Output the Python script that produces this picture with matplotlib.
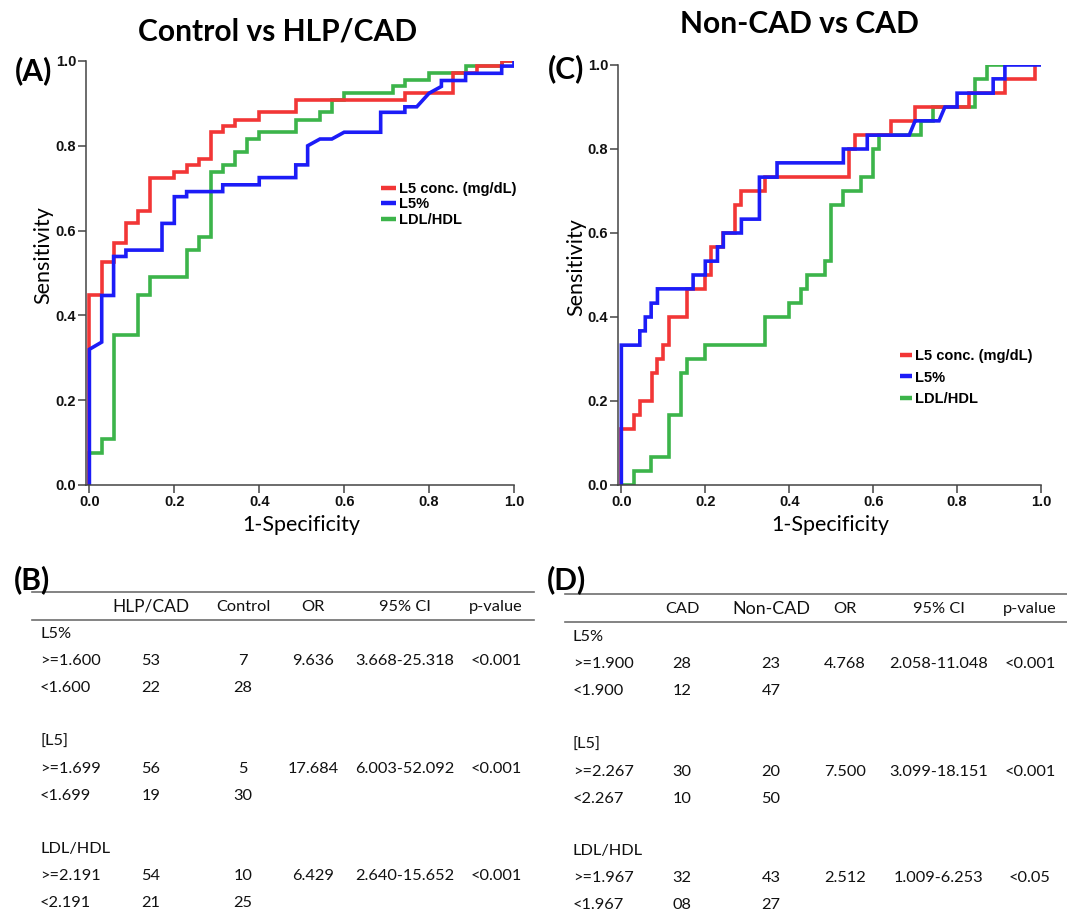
import numpy as np
import matplotlib
matplotlib.use('Agg')
import matplotlib.pyplot as plt

# ---- ROC curve coordinates (1-specificity, sensitivity) ----
# (A) Control vs HLP/CAD
a_conc_x = [0, 0, 0.029, 0.029, 0.057, 0.057, 0.086, 0.086, 0.114, 0.114, 0.143, 0.143, 0.2, 0.2,
            0.229, 0.229, 0.257, 0.257, 0.286, 0.286, 0.314, 0.314, 0.343, 0.343, 0.4, 0.4, 0.486, 0.486,
            0.743, 0.743, 0.857, 0.857, 0.914, 0.914, 0.971, 0.971, 1.0]
a_conc_y = [0, 0.447, 0.447, 0.525, 0.525, 0.570, 0.570, 0.617, 0.617, 0.647, 0.647, 0.725, 0.725, 0.739,
            0.739, 0.755, 0.755, 0.770, 0.770, 0.833, 0.833, 0.847, 0.847, 0.861, 0.861, 0.879, 0.879, 0.908,
            0.908, 0.924, 0.924, 0.971, 0.971, 0.988, 0.988, 1.0, 1.0]
a_pct_x = [0, 0, 0.029, 0.029, 0.057, 0.057, 0.086, 0.086, 0.171, 0.171, 0.2, 0.2, 0.229, 0.229, 0.314,
           0.314, 0.4, 0.4, 0.486, 0.486, 0.514, 0.514, 0.543, 0.571, 0.6, 0.686, 0.686, 0.743, 0.743,
           0.771, 0.8, 0.829, 0.829, 0.886, 0.886, 0.971, 0.971, 1.0, 1.0]
a_pct_y = [0, 0.32, 0.337, 0.447, 0.447, 0.539, 0.539, 0.554, 0.554, 0.617, 0.617, 0.68, 0.68, 0.692, 0.692,
           0.708, 0.708, 0.725, 0.725, 0.755, 0.755, 0.8, 0.816, 0.816, 0.832, 0.832, 0.879, 0.879, 0.892,
           0.892, 0.924, 0.94, 0.954, 0.954, 0.971, 0.971, 0.988, 0.988, 1.0]
a_ldl_x = [0, 0, 0.029, 0.029, 0.057, 0.057, 0.114, 0.114, 0.143, 0.143, 0.229, 0.229, 0.257, 0.257, 0.286,
           0.286, 0.314, 0.314, 0.343, 0.343, 0.371, 0.371, 0.4, 0.4, 0.486, 0.486, 0.543, 0.543, 0.571,
           0.571, 0.6, 0.6, 0.714, 0.714, 0.743, 0.743, 0.8, 0.8, 0.886, 0.886, 0.971, 0.971, 1.0]
a_ldl_y = [0, 0.076, 0.076, 0.108, 0.108, 0.354, 0.354, 0.447, 0.447, 0.491, 0.491, 0.554, 0.554, 0.584,
           0.584, 0.739, 0.739, 0.755, 0.755, 0.786, 0.786, 0.816, 0.816, 0.832, 0.832, 0.862, 0.862, 0.879,
           0.879, 0.908, 0.908, 0.924, 0.924, 0.94, 0.94, 0.955, 0.955, 0.971, 0.971, 0.988, 0.988, 1.0, 1.0]

# (C) Non-CAD vs CAD
c_conc_x = [0, 0, 0.03, 0.03, 0.044, 0.044, 0.073, 0.073, 0.086, 0.086, 0.1, 0.1, 0.114, 0.114, 0.157,
            0.157, 0.2, 0.2, 0.214, 0.214, 0.243, 0.243, 0.271, 0.271, 0.286, 0.286, 0.343, 0.343, 0.543,
            0.543, 0.557, 0.557, 0.643, 0.643, 0.7, 0.7, 0.829, 0.829, 0.914, 0.914, 0.986, 0.986]
c_conc_y = [0, 0.133, 0.133, 0.167, 0.167, 0.2, 0.2, 0.267, 0.267, 0.3, 0.3, 0.333, 0.333, 0.4, 0.4,
            0.467, 0.467, 0.5, 0.5, 0.567, 0.567, 0.6, 0.6, 0.667, 0.667, 0.7, 0.7, 0.733, 0.733,
            0.8, 0.8, 0.833, 0.833, 0.867, 0.867, 0.9, 0.9, 0.933, 0.933, 0.967, 0.967, 1.0]
c_pct_x = [0, 0, 0.044, 0.044, 0.057, 0.057, 0.071, 0.071, 0.086, 0.086, 0.171, 0.171, 0.2, 0.2, 0.229,
           0.229, 0.243, 0.243, 0.286, 0.286, 0.329, 0.329, 0.371, 0.371, 0.529, 0.529, 0.586, 0.586,
           0.686, 0.7, 0.757, 0.771, 0.8, 0.8, 0.886, 0.886, 0.914, 0.914, 1.0]
c_pct_y = [0, 0.333, 0.333, 0.367, 0.367, 0.4, 0.4, 0.433, 0.433, 0.467, 0.467, 0.5, 0.5, 0.533, 0.533,
           0.567, 0.567, 0.6, 0.6, 0.633, 0.633, 0.733, 0.733, 0.767, 0.767, 0.8, 0.8, 0.833,
           0.833, 0.867, 0.867, 0.9, 0.9, 0.933, 0.933, 0.967, 0.967, 1.0, 1.0]
c_ldl_x = [0, 0.029, 0.029, 0.071, 0.071, 0.114, 0.114, 0.143, 0.143, 0.157, 0.157, 0.2, 0.2, 0.343, 0.343,
           0.4, 0.4, 0.429, 0.429, 0.443, 0.443, 0.486, 0.486, 0.5, 0.5, 0.529, 0.529, 0.571, 0.571, 0.6,
           0.6, 0.614, 0.614, 0.714, 0.714, 0.743, 0.743, 0.843, 0.843, 0.871, 0.871, 0.914]
c_ldl_y = [0, 0, 0.033, 0.033, 0.067, 0.067, 0.167, 0.167, 0.267, 0.267, 0.3, 0.3, 0.333, 0.333, 0.4,
           0.4, 0.433, 0.433, 0.467, 0.467, 0.5, 0.5, 0.533, 0.533, 0.667, 0.667, 0.7, 0.7, 0.733, 0.733,
           0.8, 0.8, 0.833, 0.833, 0.867, 0.867, 0.9, 0.9, 0.967, 0.967, 1.0, 1.0]

series_names = ['L5 conc. (mg/dL)', 'L5%', 'LDL/HDL']
series_colors = ['#f23636', '#1c1cf7', '#3cb44a']

# ---- tables ----
b_header = ['HLP/CAD', 'Control', 'OR', '95% CI', 'p-value']
b_groups = ['L5%', '[L5]', 'LDL/HDL']
b_rows = [
    [['>=1.600', '53', '7', '9.636', '3.668-25.318', '<0.001'], ['<1.600', '22', '28', '', '', '']],
    [['>=1.699', '56', '5', '17.684', '6.003-52.092', '<0.001'], ['<1.699', '19', '30', '', '', '']],
    [['>=2.191', '54', '10', '6.429', '2.640-15.652', '<0.001'], ['<2.191', '21', '25', '', '', '']],
]
d_header = ['CAD', 'Non-CAD', 'OR', '95% CI', 'p-value']
d_groups = ['L5%', '[L5]', 'LDL/HDL']
d_rows = [
    [['>=1.900', '28', '23', '4.768', '2.058-11.048', '<0.001'], ['<1.900', '12', '47', '', '', '']],
    [['>=2.267', '30', '20', '7.500', '3.099-18.151', '<0.001'], ['<2.267', '10', '50', '', '', '']],
    [['>=1.967', '32', '43', '2.512', '1.009-6.253', '<0.05'], ['<1.967', '08', '27', '', '', '']],
]

W, H = 1067, 913
fig = plt.figure(figsize=(W / 100, H / 100), dpi=100)
fig.patch.set_facecolor('white')

TXT = 'Lato'
SPSS = 'Liberation Sans'
axcol = '#444444'


def px_axes(l, t, r, b):
    return fig.add_axes([l / W, 1 - b / H, (r - l) / W, (b - t) / H])


def roc_panel(ax, curves, leg_anchor, leg_space, leg_hl):
    # green first, then red, blue on top
    handles = {}
    for i in [2, 0, 1]:
        x, y = curves[i]
        ln, = ax.plot(x, y, color=series_colors[i], lw=2.6, solid_joinstyle='miter',
                      solid_capstyle='butt', label=series_names[i])
        handles[i] = ln
    ax.set_xlim(-0.008, 1.0)
    ax.set_ylim(0, 1.0)
    ax.set_xticks(np.arange(0, 1.01, 0.2))
    ax.set_yticks(np.arange(0, 1.01, 0.2))
    ax.xaxis.set_major_formatter(matplotlib.ticker.FormatStrFormatter('%.1f'))
    ax.yaxis.set_major_formatter(matplotlib.ticker.FormatStrFormatter('%.1f'))
    for s in ['top', 'right']:
        ax.spines[s].set_visible(False)
    for s in ['left', 'bottom']:
        ax.spines[s].set_color(axcol)
        ax.spines[s].set_linewidth(1.1)
    ax.tick_params(direction='out', length=5.5, width=1.1, color=axcol, pad=1.5,
                   labelsize=10.5)
    for lab in ax.get_xticklabels() + ax.get_yticklabels():
        lab.set_fontfamily(SPSS)
        lab.set_fontweight('bold')
        lab.set_color('#111111')
    ax.set_facecolor('none')
    leg = ax.legend([handles[0], handles[1], handles[2]], series_names,
                    loc='upper left', bbox_to_anchor=(leg_anchor[0] / W, 1 - leg_anchor[1] / H),
                    bbox_transform=fig.transFigure, frameon=False, borderpad=0, borderaxespad=0,
                    handlelength=leg_hl, handletextpad=0.25, labelspacing=leg_space,
                    prop={'family': SPSS, 'weight': 'bold', 'size': 10.5})
    for lh in leg.get_lines():
        lh.set_linewidth(3.2)


axA = px_axes(86, 61, 514, 485)
roc_panel(axA, [(a_conc_x, a_conc_y), (a_pct_x, a_pct_y), (a_ldl_x, a_ldl_y)], (381, 182), 0.1, 1.0)
axC = px_axes(618, 65, 1041, 485)
roc_panel(axC, [(c_conc_x, c_conc_y), (c_pct_x, c_pct_y), (c_ldl_x, c_ldl_y)], (900, 349), 0.52, 0.8)

# overlay canvas in pixel coordinates for text and table rules
cv = fig.add_axes([0, 0, 1, 1])
cv.set_xlim(0, W)
cv.set_ylim(H, 0)
cv.axis('off')

cv.text(278, 31, 'Control vs HLP/CAD', family=TXT, weight='bold', fontsize=21.6, ha='center', va='center')
cv.text(799, 24, 'Non-CAD vs CAD', family=TXT, weight='bold', fontsize=21.6, ha='center', va='center')
for lab, x, y in [('(A)', 34, 71), ('(C)', 566, 69), ('(B)', 32, 580), ('(D)', 567, 580)]:
    cv.text(x, y, lab, family=TXT, weight='bold', fontsize=21.6, ha='center', va='center')

cv.text(301, 525, '1-Specificity', family=TXT, fontsize=15.5, ha='center', va='center')
cv.text(830, 525, '1-Specificity', family=TXT, fontsize=15.5, ha='center', va='center')
cv.text(43, 255, 'Sensitivity', family=TXT, fontsize=15.5, ha='center', va='center', rotation=90)
cv.text(576, 267, 'Sensitivity', family=TXT, fontsize=15.5, ha='center', va='center', rotation=90)


def draw_table(x0, x1, label_x, col_x, top, header_y, rule2, group_y, header, groups, rows, big, big_fs):
    cv.plot([x0, x1], [top, top], color='#6e6e6e', lw=1.2)
    cv.plot([x0, x1], [rule2, rule2], color='#6e6e6e', lw=1.2)
    for j, h in enumerate(header):
        fs = big_fs if j == big else 11.8
        cv.text(col_x[j], header_y, h, family=TXT, fontsize=fs, ha='center', va='center', color='#111111')
    for g, gy, rr in zip(groups, group_y, rows):
        cv.text(label_x, gy, g, family=TXT, fontsize=11.8, ha='left', va='center', color='#111111')
        for k, row in enumerate(rr):
            ry = gy + 27 * (k + 1)
            cv.text(label_x, ry, row[0], family=TXT, fontsize=11.8, ha='left', va='center', color='#111111')
            for j, v in enumerate(row[1:]):
                cv.text(col_x[j], ry, v, family=TXT, fontsize=11.8, ha='center', va='center', color='#111111')


draw_table(32, 534, 40, [151, 243, 313, 405, 496], 592, 607, 620, [634, 742, 849],
           b_header, b_groups, b_rows, 0, 12.5)
draw_table(565, 1067, 573, [682, 771, 845, 939, 1030], 594, 609, 622, [637, 745, 851],
           d_header, d_groups, d_rows, 1, 12.9)

fig.savefig('out.png', dpi=100, facecolor='white')
